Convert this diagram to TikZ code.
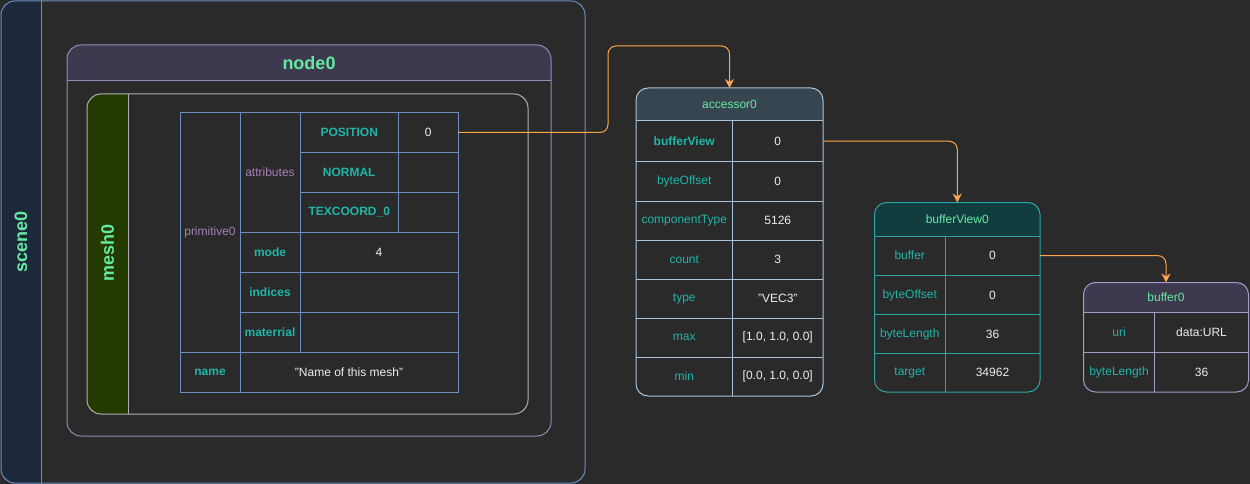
\documentclass[tikz,border=0pt]{standalone}
\usepackage{fontspec}
\setmainfont{Liberation Sans}
\usetikzlibrary{arrows.meta}
\definecolor{bgc}{HTML}{2A2A2A}
\definecolor{scenefill}{HTML}{1D283A}
\definecolor{scenestroke}{HTML}{6C8EBF}
\definecolor{hdrpurple}{HTML}{3D3A4F}
\definecolor{nodestroke}{HTML}{928CB8}
\definecolor{meshfill}{HTML}{233B00}
\definecolor{meshstroke}{HTML}{B0B0B0}
\definecolor{tblstroke}{HTML}{6C8EBF}
\definecolor{titlegreen}{HTML}{66E8A2}
\definecolor{keyteal}{HTML}{21B5A9}
\definecolor{keypurple}{HTML}{A67FBA}
\definecolor{valtext}{HTML}{EEEEEE}
\definecolor{accstroke}{HTML}{A9C4DA}
\definecolor{accfill}{HTML}{36454F}
\definecolor{bvstroke}{HTML}{2AA5A5}
\definecolor{bvfill}{HTML}{113D3F}
\definecolor{bufstroke}{HTML}{A59BCB}
\definecolor{arrowc}{HTML}{FFA64D}
\newcommand\tcell[7]{%
  \node[#6, minimum width={(#4)-(#2)}, minimum height={(#5)-(#3)}] (#1) at ({((#2)+(#4))/2},{((#3)+(#5))/2}) {#7};}
\begin{document}
\begin{tikzpicture}[x=1pt,y=-1pt,
  cellbase/.style={inner sep=0pt, outer sep=0pt, anchor=center, font=\fontsize{12}{14}\selectfont},
  meshcell/.style={cellbase, draw=tblstroke, line width=1pt},
  keyb/.style={text=keyteal, font=\fontsize{12}{14}\selectfont\bfseries},
  keyn/.style={text=keyteal},
  keyp/.style={text=keypurple},
  valn/.style={text=valtext},
  titletext/.style={inner sep=0pt, text=titlegreen, font=\fontsize{18}{21}\selectfont\bfseries},
  hdrtext/.style={cellbase, text=titlegreen},
  link/.style={draw=arrowc, line width=1pt, rounded corners=8, -{Stealth[length=9pt,width=9pt,inset=3pt]}},
]
\useasboundingbox (0,0) rectangle (1250,484);
\fill[bgc] (0,0) rectangle (1250,484);

% ---------- scene0 ----------
\begin{scope}
  \clip (0,0) rectangle (41,484);
  \fill[scenefill, rounded corners=14] (1,1) rectangle (585,483);
\end{scope}
\draw[scenestroke, line width=1pt, rounded corners=14] (1,1) rectangle (585,483);
\draw[scenestroke, line width=1pt] (41,1) -- (41,483);
\node[titletext, rotate=90] (scene0) at (21,242) {scene0};

% ---------- node0 ----------
\fill[hdrpurple] (67,81) [rounded corners=14] -- (67,45) -- (551,45) [sharp corners] -- (551,81) -- cycle;
\draw[nodestroke, line width=1pt, rounded corners=14] (67,45) rectangle (551,436);
\draw[nodestroke, line width=1pt] (67,81) -- (551,81);
\node[titletext] (node0) at (309,63) {node0};

% ---------- mesh0 ----------
\begin{scope}
  \clip (80,90) rectangle (128,420);
  \fill[meshfill, rounded corners=14] (87,94) rectangle (528,414);
\end{scope}
\draw[meshstroke, line width=1pt, rounded corners=14] (87,94) rectangle (528,414);
\draw[meshstroke, line width=1pt] (128,94) -- (128,414);
\node[titletext, rotate=90] (mesh0) at (107.5,253) {mesh0};

% ---------- primitive table ----------
\tcell{prim}{180}{112.5}{240}{352.5}{meshcell,keyp}{primitive0}
\tcell{attr}{240}{112.5}{300}{232.5}{meshcell,keyp}{attributes}
\tcell{pos}{300}{112.5}{398.5}{152.5}{meshcell,keyb}{POSITION}
\tcell{posv}{398.5}{112.5}{458}{152.5}{meshcell,valn}{0}
\tcell{nor}{300}{152.5}{398.5}{192.5}{meshcell,keyb}{NORMAL}
\tcell{norv}{398.5}{152.5}{458}{192.5}{meshcell,valn}{}
\tcell{tex}{300}{192.5}{398.5}{232.5}{meshcell,keyb}{TEXCOORD\_0}
\tcell{texv}{398.5}{192.5}{458}{232.5}{meshcell,valn}{}
\tcell{mode}{240}{232.5}{300}{272.5}{meshcell,keyb}{mode}
\tcell{modev}{300}{232.5}{458}{272.5}{meshcell,valn}{4}
\tcell{ind}{240}{272.5}{300}{312.5}{meshcell,keyb}{indices}
\tcell{indv}{300}{272.5}{458}{312.5}{meshcell,valn}{}
\tcell{mat}{240}{312.5}{300}{352.5}{meshcell,keyb}{materrial}
\tcell{matv}{300}{312.5}{458}{352.5}{meshcell,valn}{}
\tcell{name}{180}{352.5}{240}{392.5}{meshcell,keyb}{name}
\tcell{namev}{240}{352.5}{458}{392.5}{meshcell,valn}{"Name of this mesh"}

% ---------- accessor0 ----------
\fill[accfill] (636,121) [rounded corners=12] -- (636,88) -- (823,88) [sharp corners] -- (823,121) -- cycle;
\tcell{acc}{636}{88}{823}{121}{hdrtext}{accessor0}
\tcell{abv}{636}{121}{732.5}{161.5}{cellbase,keyb}{bufferView}
\tcell{abvv}{732.5}{121}{823}{161.5}{cellbase,valn}{0}
\tcell{abo}{636}{161.5}{732.5}{201}{cellbase,keyn}{byteOffset}
\tcell{abov}{732.5}{161.5}{823}{201}{cellbase,valn}{0}
\tcell{act}{636}{201}{732.5}{240}{cellbase,keyn}{componentType}
\tcell{actv}{732.5}{201}{823}{240}{cellbase,valn}{5126}
\tcell{acn}{636}{240}{732.5}{279}{cellbase,keyn}{count}
\tcell{acnv}{732.5}{240}{823}{279}{cellbase,valn}{3}
\tcell{aty}{636}{279}{732.5}{318}{cellbase,keyn}{type}
\tcell{atyv}{732.5}{279}{823}{318}{cellbase,valn}{"VEC3"}
\tcell{amax}{636}{318}{732.5}{357}{cellbase,keyn}{max}
\tcell{amaxv}{732.5}{318}{823}{357}{cellbase,valn}{[1.0, 1.0, 0.0]}
\tcell{amin}{636}{357}{732.5}{396}{cellbase,keyn}{min}
\tcell{aminv}{732.5}{357}{823}{396}{cellbase,valn}{[0.0, 1.0, 0.0]}
\begin{scope}[accstroke, line width=1pt]
  \foreach \k/\v in {abv/abvv,abo/abov,act/actv,acn/acnv,aty/atyv,amax/amaxv,amin/aminv}
    \draw (\k.north west) -- (\v.north east);
  \draw (abv.north east) -- (amin.south east);
  \draw[rounded corners=12] (acc.north west) rectangle (aminv.south east);
\end{scope}

% ---------- bufferView0 ----------
\fill[bvfill] (874.5,236) [rounded corners=12] -- (874.5,202.5) -- (1040,202.5) [sharp corners] -- (1040,236) -- cycle;
\tcell{bv}{874.5}{202.5}{1040}{236}{hdrtext}{bufferView0}
\tcell{bbuf}{874.5}{236}{945}{275.3}{cellbase,keyn}{buffer}
\tcell{bbufv}{945}{236}{1040}{275.3}{cellbase,valn}{0}
\tcell{bbo}{874.5}{275.3}{945}{314.5}{cellbase,keyn}{byteOffset}
\tcell{bbov}{945}{275.3}{1040}{314.5}{cellbase,valn}{0}
\tcell{bbl}{874.5}{314.5}{945}{353.5}{cellbase,keyn}{byteLength}
\tcell{bblv}{945}{314.5}{1040}{353.5}{cellbase,valn}{36}
\tcell{btg}{874.5}{353.5}{945}{392}{cellbase,keyn}{target}
\tcell{btgv}{945}{353.5}{1040}{392}{cellbase,valn}{34962}
\begin{scope}[bvstroke, line width=1pt]
  \foreach \k/\v in {bbuf/bbufv,bbo/bbov,bbl/bblv,btg/btgv}
    \draw (\k.north west) -- (\v.north east);
  \draw (bbuf.north east) -- (btg.south east);
  \draw[rounded corners=12] (bv.north west) rectangle (btgv.south east);
\end{scope}

% ---------- buffer0 ----------
\fill[hdrpurple] (1083.5,312.5) [rounded corners=12] -- (1083.5,282.5) -- (1248.5,282.5) [sharp corners] -- (1248.5,312.5) -- cycle;
\tcell{buf}{1083.5}{282.5}{1248.5}{312.5}{hdrtext}{buffer0}
\tcell{buri}{1083.5}{312.5}{1154.5}{352.5}{cellbase,keyn}{uri}
\tcell{buriv}{1154.5}{312.5}{1248.5}{352.5}{cellbase,valn}{data:URL}
\tcell{bbl2}{1083.5}{352.5}{1154.5}{392}{cellbase,keyn}{byteLength}
\tcell{bbl2v}{1154.5}{352.5}{1248.5}{392}{cellbase,valn}{36}
\begin{scope}[bufstroke, line width=1pt]
  \foreach \k/\v in {buri/buriv,bbl2/bbl2v}
    \draw (\k.north west) -- (\v.north east);
  \draw (buri.north east) -- (bbl2.south east);
  \draw[rounded corners=12] (buf.north west) rectangle (bbl2v.south east);
\end{scope}

% ---------- connectors ----------
\draw[link] (posv.east) -- ++(150,0) |- ([yshift=42pt]acc.north) -- (acc.north);
\draw[link] (abvv.east) -| (bv.north);
\draw[link] (bbufv.east) -| (buf.north);
\end{tikzpicture}
\end{document}
